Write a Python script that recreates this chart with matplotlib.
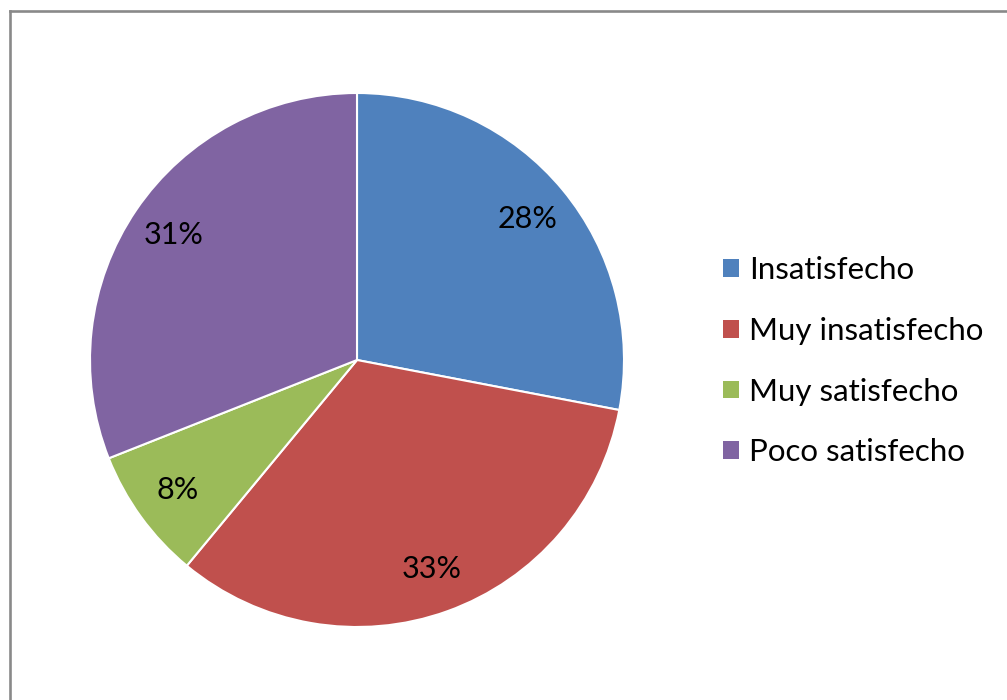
import matplotlib
matplotlib.use("Agg")
import matplotlib.pyplot as plt
from matplotlib.lines import Line2D

categories = ["Insatisfecho", "Muy insatisfecho", "Muy satisfecho", "Poco satisfecho"]
values = [28, 33, 8, 31]
colors = ["#4F81BD", "#C0504D", "#9BBB59", "#8064A2"]

plt.rcParams['font.family'] = ['Lato', 'DejaVu Sans']

W, H = 1007, 700
fig = plt.figure(figsize=(W / 100, H / 100), dpi=100)
fig.patch.set_facecolor("white")

cx, cy, r = 357, 360, 267
ax = fig.add_axes([(cx - r) / W, (H - cy - r) / H, 2 * r / W, 2 * r / H])
wedges, texts, autotexts = ax.pie(
    values, colors=colors, startangle=90, counterclock=False,
    autopct=lambda p: f"{p:.0f}%", pctdistance=0.83, radius=1,
    wedgeprops=dict(edgecolor="white", linewidth=1.5),
    textprops=dict(fontsize=22, color="black"))
ax.set_xlim(-1.0, 1.0)
ax.set_ylim(-1.0, 1.0)
ax.set_aspect("equal")
ax.axis("off")

leg = fig.legend(wedges, categories, loc="upper left",
                 bbox_to_anchor=(723 / W, 1 - 256 / H),
                 frameon=False, fontsize=22.5, handlelength=0.5, handleheight=0.5,
                 handletextpad=0.33, labelspacing=1.05, borderpad=0, borderaxespad=0)
for h in leg.legend_handles:
    h.set_edgecolor("none")

# chart border (top and left visible)
fig.add_artist(Line2D([10 / W, 1], [1 - 11 / H, 1 - 11 / H], transform=fig.transFigure,
                      color="#898989", linewidth=1.9))
fig.add_artist(Line2D([10 / W, 10 / W], [0, 1 - 11 / H], transform=fig.transFigure,
                      color="#898989", linewidth=1.9))

fig.savefig("out.png", dpi=100)
